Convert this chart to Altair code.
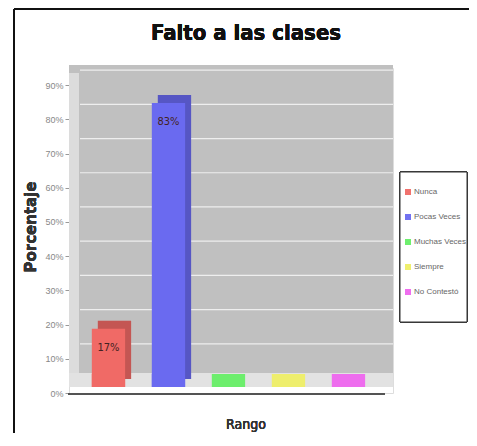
import altair as alt
import pandas as pd

categories = ["Nunca", "Pocas Veces", "Muchas Veces", "Siempre", "No Contestó"]
values = [0.17, 0.83, 0.0, 0.0, 0.0]
labels = ["17%", "83%", "", "", ""]
colors = ["#f06a66", "#6a6af0", "#66ee66", "#eeee66", "#ee66ee"]
y_ticks = [0, 0.1, 0.2, 0.3, 0.4, 0.5, 0.6, 0.7, 0.8, 0.9]

W, H = 324, 325
FONT = "'DejaVu Sans Condensed', 'Liberation Sans Narrow', 'Roboto Condensed', 'Arial Narrow', sans-serif"
LFONT = "Liberation Sans"

df = pd.DataFrame({"cat": categories, "val": values, "lab": labels})
ticks_df = pd.DataFrame({"t": y_ticks})

xenc = alt.X("cat:N", sort=categories,
             scale=alt.Scale(paddingInner=0.445, paddingOuter=0.4225, align=0.45),
             axis=alt.Axis(labels=False, ticks=False, title=None,
                           domain=False, grid=False))
yscale = alt.Scale(domain=[0, 0.95], nice=False)
yaxis = alt.Axis(values=y_ticks, format=".0%", title=None,
                 labelColor="#888888", labelFont=LFONT, labelFontSize=9,
                 labelOverlap=False, grid=False,
                 tickColor="#999999", tickSize=4, domain=False, labelPadding=2)
yenc = alt.Y("val:Q", scale=yscale, axis=yaxis)
cenc = alt.Color("cat:N", sort=categories,
                 scale=alt.Scale(domain=categories, range=colors),
                 legend=alt.Legend(title=None, orient="none", legendX=333, legendY=118,
                                   symbolType="square", symbolSize=36,
                                   symbolStrokeWidth=0, labelFont=LFONT,
                                   labelFontSize=8, labelColor="#666666",
                                   rowPadding=17, padding=2, columnPadding=2,
                                   symbolOffset=0, labelOffset=2))

base = alt.Chart(df)

backwall = base.mark_rect(color="#c0c0c0").encode(
    x=alt.value(0), x2=alt.value(W), y=alt.value(-3), y2=alt.value(H - 6))
grid = alt.Chart(ticks_df).mark_rule(color="#eeeeee", strokeWidth=1.2, yOffset=-15).encode(
    y=alt.Y("t:Q", scale=yscale, axis=yaxis), x=alt.value(11), x2=alt.value(W))
left_wall = base.mark_rect(color="#dcdcdc").encode(
    x=alt.value(0), x2=alt.value(10), y=alt.value(5), y2=alt.value(H - 6))
floor = base.mark_rect(color="#e2e2e2").encode(
    x=alt.value(0), x2=alt.value(W), y=alt.value(H - 20), y2=alt.value(H - 6))
floor_cat = base.mark_bar(opacity=0.95).encode(
    x=xenc, color=cenc, y=alt.value(H - 19), y2=alt.value(H - 6))
base_line = base.mark_rule(color="#555555", strokeWidth=1.5).encode(
    x=alt.value(-1), x2=alt.value(316), y=alt.value(H + 1))

side = base.mark_bar(xOffset=6, yOffset=-14).encode(x=xenc, y=yenc, color=cenc)
side_dark = base.mark_bar(xOffset=6, yOffset=-14, color="#000000", opacity=0.18).encode(
    x=xenc, y=yenc)
front = base.mark_bar(yOffset=-6).encode(x=xenc, y=yenc, color=cenc)
text = base.mark_text(dy=13, fontSize=11, font=FONT, color="#442222").encode(
    x=xenc, y=yenc, text="lab:N")

legend_box = base.mark_rect(fill="#ffffff", stroke="#333333", strokeWidth=1).encode(
    x=alt.value(331), x2=alt.value(398), y=alt.value(104), y2=alt.value(254))

title = base.mark_text(fontSize=22, fontWeight="bold", font=FONT, color="#111111").encode(
    x=alt.value(177), y=alt.value(-35), text=alt.value("Falto a las clases"))
ytitle = base.mark_text(fontSize=15, fontWeight="bold", font="DejaVu Sans", angle=270,
                        color="#333333").encode(
    x=alt.value(-38), y=alt.value(159), text=alt.value("Porcentaje"))
xtitle = base.mark_text(fontSize=14, font=FONT, color="#333333").encode(
    x=alt.value(177), y=alt.value(357), text=alt.value("Rango"))
frame_top = base.mark_rule(color="#111111", strokeWidth=2).encode(
    x=alt.value(-55), x2=alt.value(400), y=alt.value(-59))
frame_left = base.mark_rule(color="#111111", strokeWidth=2).encode(
    x=alt.value(-55), y=alt.value(-59), y2=alt.value(370))

chart = alt.layer(
    backwall, grid, left_wall, floor, floor_cat, base_line, side, side_dark, front,
    text, legend_box, title, ytitle, xtitle, frame_top, frame_left
).properties(
    width=W, height=H,
    autosize=alt.AutoSizeParams(type="none"),
    padding={"left": 61, "top": 60, "right": 76, "bottom": 40}
).configure_view(
    stroke=None
).configure(background="#ffffff")

chart.save("out.html", embed_options={"renderer": "svg", "actions": False})
